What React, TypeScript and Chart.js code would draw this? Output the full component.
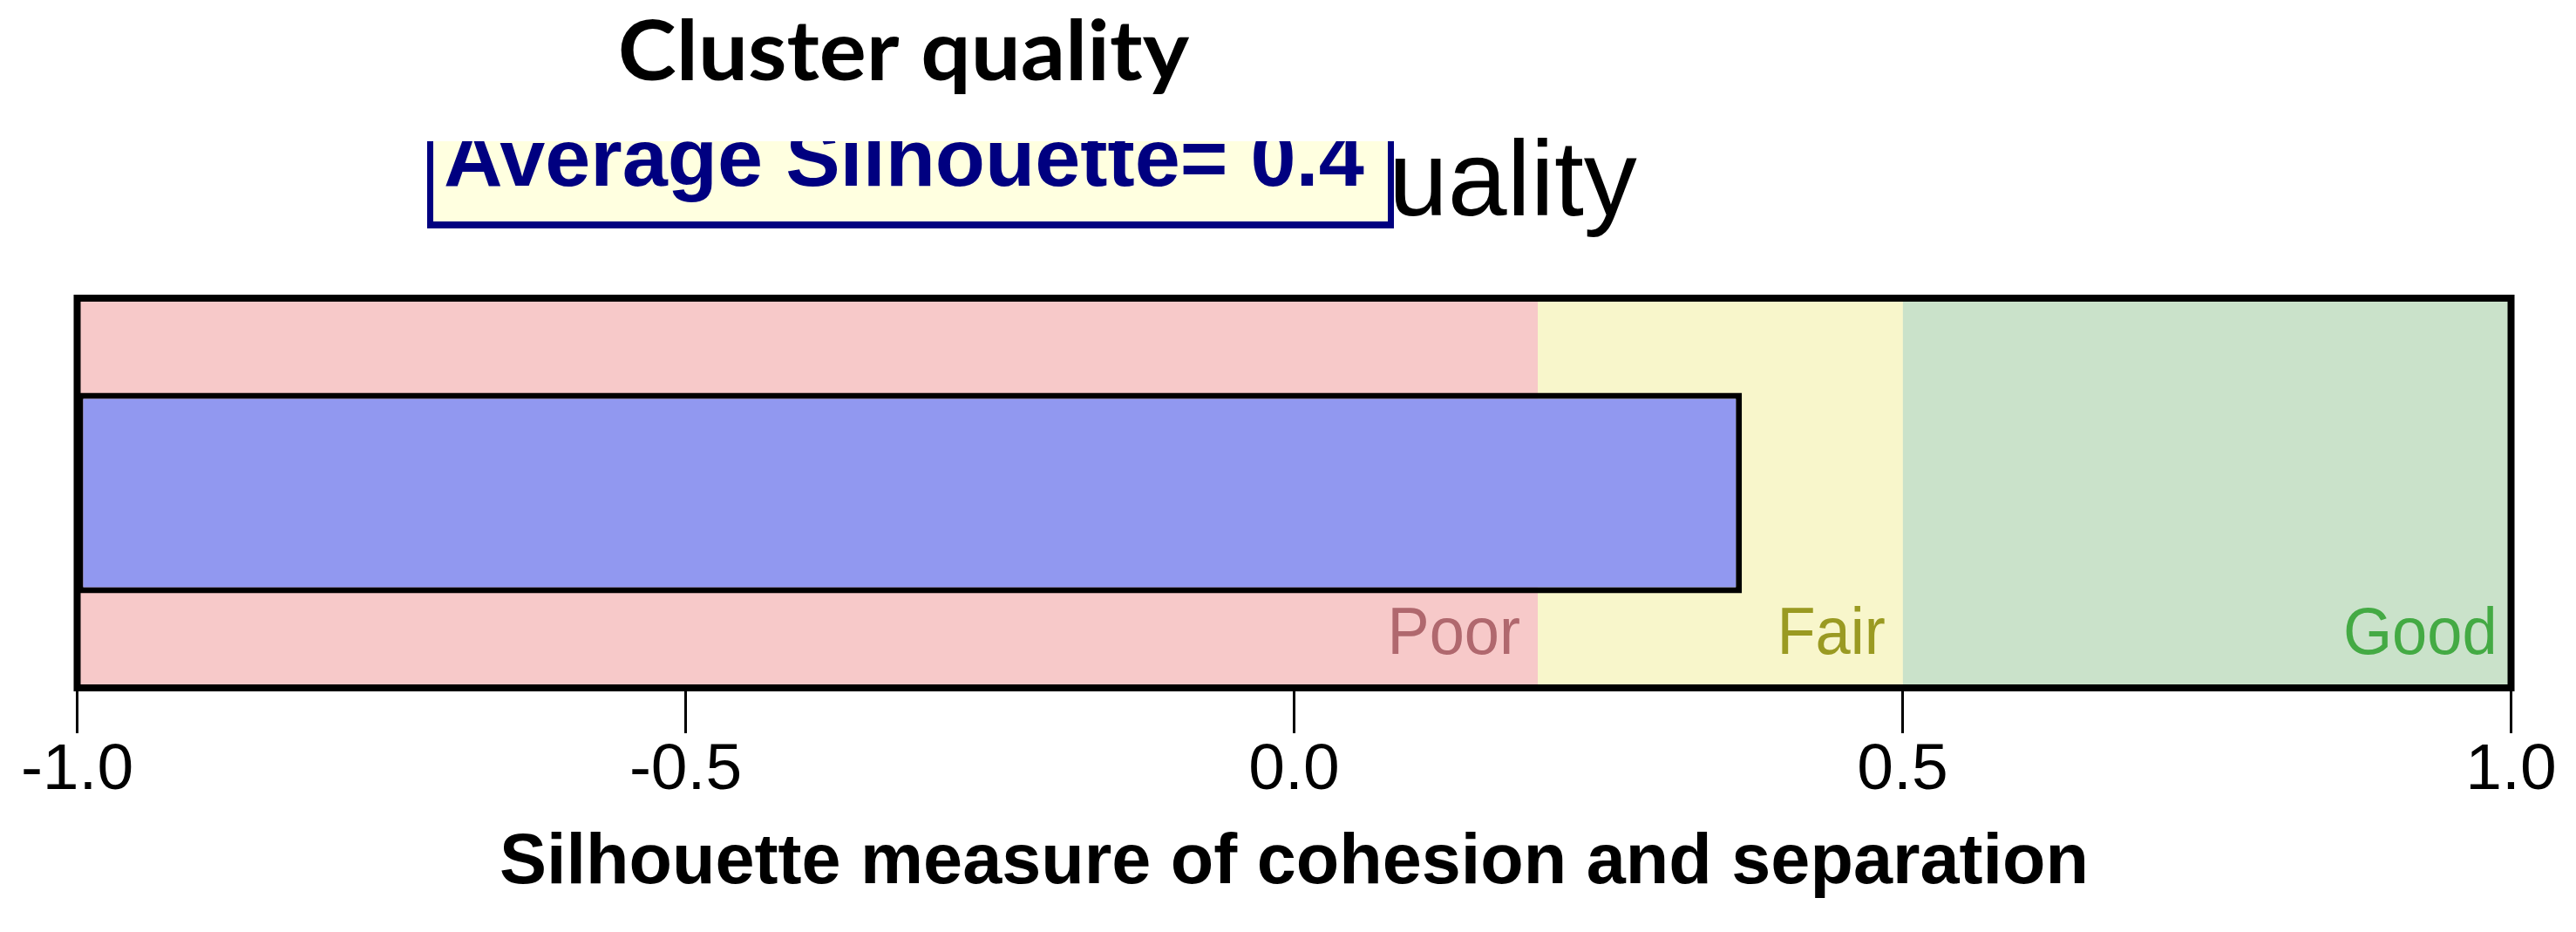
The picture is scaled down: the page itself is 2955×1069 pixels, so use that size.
import React, { useEffect, useRef } from "react";
import { Chart, registerables } from "chart.js";

Chart.register(...registerables);

// ---- data ----
const categories = ["Silhouette"];
const silhouetteMin = [-1];
const averageSilhouette = [0.368];
const bandNames = ["Poor", "Fair", "Good"];
const bandStarts = [-1, 0.2, 0.5];
const bandEnds = [0.2, 0.5, 1];
const xTickValues = [-1, -0.5, 0, 0.5, 1];
const chartTitle = "Cluster quality";
const axisTitle = "Silhouette measure of cohesion and separation";

// ---- styles ----
const bandColors = ["#F7C9C9", "#F8F6CB", "#CAE2CA"];
const bandTextColors = ["#B0686E", "#9A9A22", "#44AA44"];
const barColor = "#9198F0";
const SANS = "'Liberation Sans', Arial, sans-serif";

function fitText(
  ctx: CanvasRenderingContext2D,
  text: string,
  left: number,
  right: number,
  baseline: number,
  font: string,
  color: string
) {
  ctx.save();
  ctx.font = font;
  ctx.fillStyle = color;
  ctx.textAlign = "left";
  ctx.textBaseline = "alphabetic";
  const m = ctx.measureText(text);
  const ink = m.actualBoundingBoxLeft + m.actualBoundingBoxRight;
  const sx = (right - left) / ink;
  ctx.translate(left, baseline);
  ctx.scale(sx, 1);
  ctx.fillText(text, m.actualBoundingBoxLeft, 0);
  ctx.restore();
}

const framePlugin = {
  id: "frameAndLabels",
  afterDatasetsDraw(chart: any) {
    const { ctx, chartArea } = chart;
    const x = chart.scales.x;
    ctx.save();
    // band labels
    bandNames.forEach((name, i) => {
      const right = x.getPixelForValue(bandEnds[i]) - 20;
      ctx.save();
      ctx.font = `76px ${SANS}`;
      ctx.fillStyle = bandTextColors[i];
      ctx.textAlign = "left";
      ctx.textBaseline = "alphabetic";
      const m = ctx.measureText(name);
      ctx.translate(right, chartArea.bottom - 39);
      ctx.scale(0.95, 1);
      ctx.fillText(name, -m.actualBoundingBoxRight, 0);
      ctx.restore();
    });
    // frame
    ctx.strokeStyle = "#000000";
    ctx.lineWidth = 8;
    ctx.strokeRect(
      chartArea.left,
      chartArea.top,
      chartArea.right - chartArea.left,
      chartArea.bottom - chartArea.top
    );
    ctx.restore();
  },
  afterDraw(chart: any) {
    const ctx: CanvasRenderingContext2D = chart.ctx;
    const bx = 490, by = 162, bw = 1109, bh = 100;
    ctx.save();
    // top title
    fitText(ctx, chartTitle, 712, 1365, 92, `bold 95px Lato, ${SANS}`, "#000000");
    // larger title, covered by the box: only "uality" shows, right after the box
    ctx.save();
    ctx.beginPath();
    ctx.rect(bx + bw, 0, 2955 - bx - bw, 340);
    ctx.clip();
    ctx.font = `122px ${SANS}`;
    ctx.fillStyle = "#000000";
    ctx.textAlign = "left";
    ctx.textBaseline = "alphabetic";
    const lead = ctx.measureText("Cluster q").width;
    const tail = ctx.measureText("uality");
    const originX = 1600 - (lead - tail.actualBoundingBoxLeft);
    ctx.fillText(chartTitle, originX, 247);
    ctx.restore();
    // box
    ctx.fillStyle = "#FFFFE0";
    ctx.fillRect(bx, by, bw, bh);
    ctx.fillStyle = "#000080";
    ctx.fillRect(bx, by, 7, bh);
    ctx.fillRect(bx + bw - 7, by, 7, bh);
    ctx.fillRect(bx, by + bh - 8, bw, 8);
    ctx.save();
    ctx.beginPath();
    ctx.rect(bx + 7, by, bw - 14, bh - 8);
    ctx.clip();
    const avgText = `Average Silhouette= ${averageSilhouette[0].toFixed(1)}`;
    fitText(ctx, avgText, 511, 1565, 213, `bold 93px ${SANS}`, "#000080");
    ctx.restore();
    ctx.restore();
  },
};

export default function App() {
  const ref = useRef<HTMLCanvasElement>(null);
  useEffect(() => {
    document.body.style.margin = "0";
    document.body.style.overflow = "hidden";
    const canvas = ref.current!;
    const chart = new Chart(canvas, {
      type: "bar",
      data: {
        labels: categories,
        datasets: [
          {
            label: "Average Silhouette",
            data: categories.map((_, i) => [silhouetteMin[i], averageSilhouette[i]]) as any,
            yAxisID: "y",
            backgroundColor: barColor,
            borderColor: "#000000",
            borderWidth: 7,
            borderSkipped: false,
            barPercentage: 0.514,
            categoryPercentage: 1,
            grouped: false,
            order: 0,
          } as any,
          ...bandNames.map((name, i) => ({
            label: name,
            data: categories.map(() => [bandStarts[i], bandEnds[i]]) as any,
            yAxisID: "yBand",
            backgroundColor: bandColors[i],
            borderWidth: 0,
            barPercentage: 1,
            categoryPercentage: 1,
            grouped: false,
            order: 1,
          })),
        ],
      },
      options: {
        indexAxis: "y",
        responsive: false,
        animation: false,
        devicePixelRatio: 1,
        layout: { padding: { top: 342, left: 88.5, right: 74.5, bottom: 0 } },
        plugins: {
          legend: { display: false },
          tooltip: { enabled: false },
          title: { display: false },
        },
        scales: {
          x: {
            type: "linear",
            min: -1,
            max: 1,
            afterBuildTicks: (s: any) => {
              s.ticks = xTickValues.map((v) => ({ value: v }));
            },
            ticks: {
              color: "#000000",
              padding: 6,
              font: { family: SANS, size: 75, lineHeight: 1 },
              callback: (v: any) => Number(v).toFixed(1),
              maxRotation: 0,
              autoSkip: false,
            },
            grid: {
              display: true,
              drawOnChartArea: false,
              drawTicks: true,
              tickLength: 52,
              tickWidth: 3,
              lineWidth: 3,
              tickColor: "#000000",
              color: "#000000",
            },
            border: { display: false },
            title: {
              display: true,
              text: axisTitle,
              color: "#000000",
              font: { family: SANS, size: 81, weight: "bold", lineHeight: 1.2 },
              padding: { top: 13.8, bottom: 30 },
            },
          },
          y: { type: "category", display: false },
          yBand: { type: "category", display: false, axis: "y" } as any,
        },
      },
      plugins: [framePlugin],
    });
    return () => chart.destroy();
  }, []);
  return (
    <canvas
      ref={ref}
      width={2955}
      height={1069}
      style={{ display: "block", width: 2955, height: 1069 }}
    />
  );
}
